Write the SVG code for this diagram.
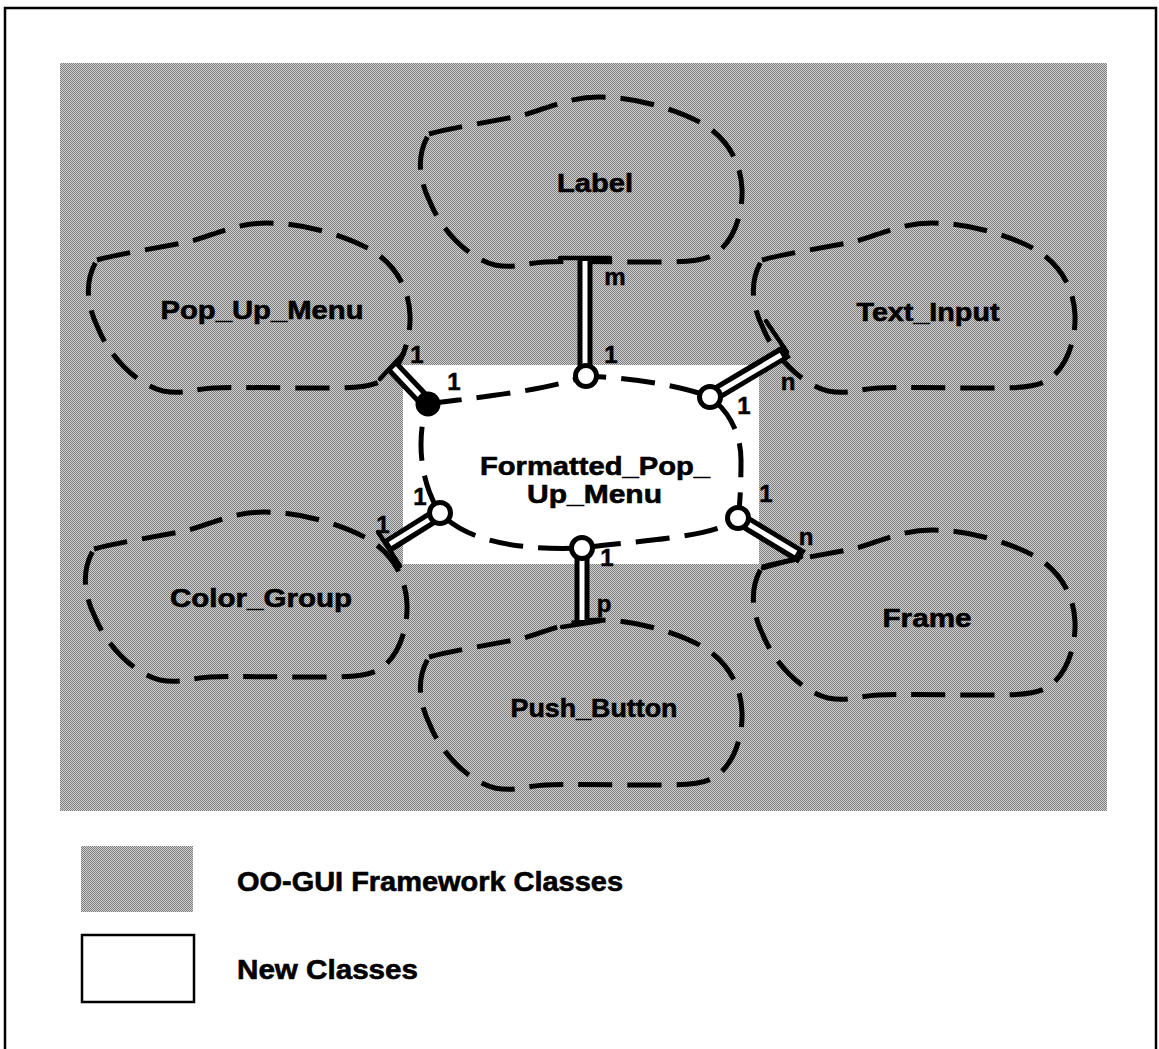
<svg xmlns="http://www.w3.org/2000/svg" xmlns:xlink="http://www.w3.org/1999/xlink" width="1159" height="1049" viewBox="0 0 1159 1049">
<style>
.blob{fill:none;stroke:#000;stroke-width:5;stroke-dasharray:34 15;stroke-linecap:butt}
.lbl{font-family:"Liberation Sans",Arial,sans-serif;font-weight:bold;font-size:26px;fill:#000;stroke:#000;stroke-width:0.6;text-anchor:middle}
.mult{font-family:"Liberation Sans",Arial,sans-serif;font-weight:bold;font-size:24px;fill:#000;stroke:#000;stroke-width:0.5;text-anchor:middle}
.leg{font-family:"Liberation Sans",Arial,sans-serif;font-weight:bold;font-size:27px;fill:#000;stroke:#000;stroke-width:0.6}
.po{stroke:#000;stroke-width:15;stroke-linecap:butt}
.pi{stroke:#fff;stroke-width:5;stroke-linecap:butt}
.bar{stroke:#000;stroke-width:4.5;stroke-linecap:round;fill:none}
.oc{fill:#fff;stroke:#000;stroke-width:5}
</style>
<defs>
<pattern id="ht" patternUnits="userSpaceOnUse" width="2" height="2">
<rect width="2" height="2" fill="#d4d4d4"/>
<rect width="1" height="1" fill="#7a7a7a"/>
<rect x="1" y="1" width="1" height="1" fill="#7a7a7a"/>
</pattern>
<path id="cloud" d="M 14 37 C 40 30, 80 24, 104 19 C 125 15, 150 0, 184 0 C 220 0, 262 12, 290 28 C 312 42, 326 65, 327 92 C 328 118, 318 145, 300 157 C 285 166, 260 165, 230 165 C 190 165, 160 164, 130 165 C 110 166, 100 172, 80 168 C 50 160, 25 130, 15 105 C 5 85, 0 60, 14 37 Z"/>
</defs>
<rect width="1159" height="1049" fill="#fff"/>
<rect x="5" y="8" width="1151" height="1070" fill="none" stroke="#000" stroke-width="2.5"/>
<rect x="60" y="63" width="1047" height="748" fill="url(#ht)"/>
<rect x="403" y="365" width="356" height="199" fill="#fff"/>

<g id="node-label"><use xlink:href="#cloud" href="#cloud" class="blob" transform="translate(415,97)"/><text class="lbl" x="595" y="192" textLength="76" lengthAdjust="spacingAndGlyphs">Label</text></g>
<g id="node-popupmenu"><use xlink:href="#cloud" href="#cloud" class="blob" transform="translate(83,223)"/><text class="lbl" x="262" y="319" textLength="203" lengthAdjust="spacingAndGlyphs">Pop_Up_Menu</text></g>
<g id="node-textinput"><use xlink:href="#cloud" href="#cloud" class="blob" transform="translate(748,223)"/><text class="lbl" x="928" y="321" textLength="143" lengthAdjust="spacingAndGlyphs">Text_Input</text></g>
<g id="node-colorgroup"><use xlink:href="#cloud" href="#cloud" class="blob" transform="translate(80,512)"/><text class="lbl" x="261" y="607" textLength="182" lengthAdjust="spacingAndGlyphs">Color_Group</text></g>
<g id="node-pushbutton"><use xlink:href="#cloud" href="#cloud" class="blob" transform="translate(415,620)"/><text class="lbl" x="594" y="717" textLength="167" lengthAdjust="spacingAndGlyphs">Push_Button</text></g>
<g id="node-frame"><use xlink:href="#cloud" href="#cloud" class="blob" transform="translate(748,530)"/><text class="lbl" x="927" y="627" textLength="89" lengthAdjust="spacingAndGlyphs">Frame</text></g>
<g id="node-formatted">
<path class="blob" d="M 428 404 C 470 398, 540 392, 586 376 C 630 378, 680 385, 710 397 C 730 412, 741 435, 741 460 C 741 485, 740 505, 738 518 C 715 538, 640 540, 582 548 C 530 550, 470 545, 440 513 C 428 495, 421 470, 421 445 C 421 430, 423 415, 428 404 Z"/>
<text class="lbl" x="595" y="475" textLength="230" lengthAdjust="spacingAndGlyphs">Formatted_Pop_</text>
<text class="lbl" x="594.5" y="503" textLength="135" lengthAdjust="spacingAndGlyphs">Up_Menu</text>
</g>

<g id="connectors">
<!-- Label -->
<line class="po" x1="585" y1="256" x2="585" y2="370"/><line class="pi" x1="585" y1="261" x2="585" y2="370"/>
<line class="bar" x1="560" y1="258" x2="610" y2="258"/>
<circle class="oc" cx="586" cy="376" r="10.5"/>
<text class="mult" x="615" y="285">m</text><text class="mult" x="611" y="363">1</text>
<!-- Pop_Up_Menu -->
<line class="po" x1="428" y1="404" x2="391" y2="365"/><line class="pi" x1="424" y1="400" x2="394" y2="368"/>
<line class="bar" x1="380" y1="379" x2="404" y2="353"/>
<circle cx="428" cy="404" r="12.5" fill="#000"/>
<text class="mult" x="417" y="363">1</text><text class="mult" x="454" y="390">1</text>
<!-- Text_Input -->
<line class="po" x1="710" y1="397" x2="787" y2="351"/><line class="pi" x1="710" y1="397" x2="781" y2="355"/>
<line class="bar" x1="787" y1="352" x2="766" y2="321"/>
<circle class="oc" cx="710" cy="397" r="10.5"/>
<text class="mult" x="788" y="390">n</text><text class="mult" x="744" y="414">1</text>
<!-- Color_Group -->
<line class="po" x1="440" y1="513" x2="386" y2="547"/><line class="pi" x1="440" y1="513" x2="390" y2="544"/>
<line class="bar" x1="378" y1="532" x2="400" y2="566"/>
<circle class="oc" cx="440" cy="513" r="10.5"/>
<text class="mult" x="420" y="505">1</text><text class="mult" x="383" y="533" font-size="19">1</text>
<!-- Push_Button -->
<line class="po" x1="582" y1="548" x2="582" y2="625"/><line class="pi" x1="582" y1="548" x2="582" y2="620"/>
<line class="bar" x1="562" y1="627" x2="600" y2="621"/>
<circle class="oc" cx="582" cy="548" r="10.5"/>
<text class="mult" x="604" y="612">p</text><text class="mult" x="607" y="566">1</text>
<!-- Frame -->
<line class="po" x1="738" y1="518" x2="802" y2="557"/><line class="pi" x1="738" y1="518" x2="796" y2="553"/>
<line class="bar" x1="801" y1="557" x2="763" y2="568"/>
<circle class="oc" cx="738" cy="518" r="10.5"/>
<text class="mult" x="806" y="545">n</text><text class="mult" x="766" y="502">1</text>
</g>

<g id="legend">
<rect x="81" y="846" width="112" height="66" fill="url(#ht)"/>
<text class="leg" x="237" y="891" textLength="386" lengthAdjust="spacingAndGlyphs">OO-GUI Framework Classes</text>
<rect x="82" y="935" width="112" height="67" fill="#fff" stroke="#000" stroke-width="2.5"/>
<text class="leg" x="237" y="979" textLength="181" lengthAdjust="spacingAndGlyphs">New Classes</text>
</g>
</svg>
